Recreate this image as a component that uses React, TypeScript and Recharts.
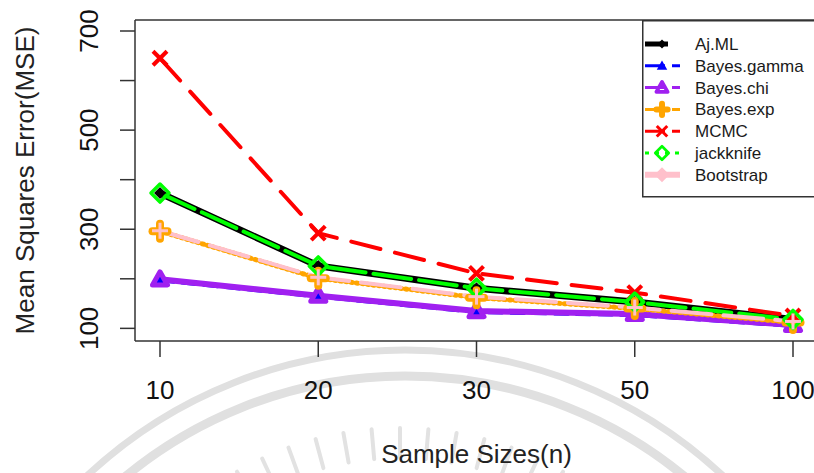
import React from "react";
import { LineChart, Line, XAxis, YAxis, Legend, Label, ReferenceLine } from "recharts";

// MSE per estimator for each sample size
const sampleSizes = ["10", "20", "30", "50", "100"];
const ajML = [373, 226, 181, 153, 118];
const bayesGamma = [196, 163, 132, 126, 104];
const bayesChi = [199, 166, 135, 129, 107];
const bayesExp = [296, 201, 162, 140, 112];
const mcmc = [645, 292, 211, 172, 125];
const jackknife = [373, 226, 181, 153, 118];
const bootstrap = [297, 203, 164, 142, 114];

const yTicks = [100, 200, 300, 400, 500, 600, 700];
const yLabelled = [100, 300, 500, 700];
const yDomain: [number, number] = [74.5, 722.2];

const rows = sampleSizes.map((n, i) => ({
  n,
  ajML: ajML[i],
  bayesGamma: bayesGamma[i],
  bayesChi: bayesChi[i],
  bayesExp: bayesExp[i],
  mcmc: mcmc[i],
  jackknife: jackknife[i],
  bootstrap: bootstrap[i],
}));

const FONT = '"Liberation Sans", Arial, sans-serif';
const AXIS = "#333";

type Marker = "diamondFilled" | "triangleFilled" | "triangleOpen" | "plusThick" | "cross" | "diamondOpen" | "plusThin" | "diamondBig";

interface Series {
  key: string;
  name: string;
  color: string;
  width: number;
  dash?: string;
  marker: Marker;
  legendDash?: string;
  legendWidth: number;
  legendMarker: Marker;
}

const SERIES: Series[] = [
  { key: "ajML", name: "Aj.ML", color: "#000000", width: 7, marker: "diamondFilled", legendWidth: 5, legendMarker: "diamondFilled" },
  { key: "bayesGamma", name: "Bayes.gamma", color: "#0000ff", width: 3, dash: "14 8", marker: "triangleFilled", legendDash: "20 7", legendWidth: 3, legendMarker: "triangleFilled" },
  { key: "bayesChi", name: "Bayes.chi", color: "#a020f0", width: 6, marker: "triangleOpen", legendDash: "20 7", legendWidth: 3, legendMarker: "triangleOpen" },
  { key: "bayesExp", name: "Bayes.exp", color: "#ffa500", width: 5, dash: "1.5 4", marker: "plusThick", legendDash: "20 7", legendWidth: 3, legendMarker: "plusThick" },
  { key: "mcmc", name: "MCMC", color: "#ff0000", width: 4, dash: "30 15", marker: "cross", legendDash: "20 7", legendWidth: 3, legendMarker: "cross" },
  { key: "jackknife", name: "jackknife", color: "#00ff00", width: 4, dash: "38 8", marker: "diamondOpen", legendDash: "4 6", legendWidth: 3, legendMarker: "diamondOpen" },
  { key: "bootstrap", name: "Bootstrap", color: "#ffc0cb", width: 4, dash: "40 12", marker: "plusThin", legendWidth: 6, legendMarker: "diamondBig" },
];

function shape(kind: Marker, x: number, y: number, color: string, scale = 1) {
  const s = scale;
  switch (kind) {
    case "diamondFilled": {
      const r = 6 * s;
      return <polygon points={`${x},${y - r} ${x + r},${y} ${x},${y + r} ${x - r},${y}`} fill={color} />;
    }
    case "diamondBig": {
      const r = 10 * s;
      return <polygon points={`${x},${y - r} ${x + r},${y} ${x},${y + r} ${x - r},${y}`} fill={color} />;
    }
    case "diamondOpen": {
      const r = 9 * s;
      return (
        <polygon
          points={`${x},${y - r} ${x + r},${y} ${x},${y + r} ${x - r},${y}`}
          fill="none"
          stroke={color}
          strokeWidth={3.5 * s}
          strokeLinejoin="round"
        />
      );
    }
    case "triangleFilled": {
      const r = 7 * s;
      return <polygon points={`${x},${y - r} ${x + r},${y + r * 0.75} ${x - r},${y + r * 0.75}`} fill={color} />;
    }
    case "triangleOpen": {
      const r = 7.5 * s;
      return (
        <polygon
          points={`${x},${y - r} ${x + r},${y + r * 0.75} ${x - r},${y + r * 0.75}`}
          fill="none"
          stroke={color}
          strokeWidth={5 * s}
          strokeLinejoin="round"
        />
      );
    }
    case "plusThick": {
      const r = 7.5 * s;
      return (
        <g stroke={color} strokeWidth={8 * s} strokeLinecap="round">
          <line x1={x - r} y1={y} x2={x + r} y2={y} />
          <line x1={x} y1={y - r} x2={x} y2={y + r} />
        </g>
      );
    }
    case "plusThin": {
      const r = 8 * s;
      return (
        <g stroke={color} strokeWidth={3 * s}>
          <line x1={x - r} y1={y} x2={x + r} y2={y} />
          <line x1={x} y1={y - r} x2={x} y2={y + r} />
        </g>
      );
    }
    case "cross": {
      const r = 7 * s;
      return (
        <g stroke={color} strokeWidth={4 * s}>
          <line x1={x - r} y1={y - r} x2={x + r} y2={y + r} />
          <line x1={x - r} y1={y + r} x2={x + r} y2={y - r} />
        </g>
      );
    }
  }
}

const dotFor = (ser: Series) => (props: any) => (
  <g key={`${ser.key}-${props.index}`}>{shape(ser.marker, props.cx, props.cy, ser.color)}</g>
);

const XTick = (props: any) => (
  <text x={props.x} y={props.y} dy={42} textAnchor="middle" fontSize={26} fontFamily={FONT} fill="#111">
    {props.payload.value}
  </text>
);

const YTick = (props: any) => {
  const v = props.payload.value;
  if (!yLabelled.includes(v)) return <g />;
  const x = props.x - 22;
  return (
    <text
      x={x}
      y={props.y}
      transform={`rotate(-90, ${x}, ${props.y})`}
      textAnchor="middle"
      fontSize={26}
      fontFamily={FONT}
      fill="#111"
    >
      {v}
    </text>
  );
};

const YTitle = (props: any) => {
  const vb = props.viewBox;
  const x = vb.x + 34;
  const y = vb.y + vb.height / 2;
  return (
    <text x={x} y={y} transform={`rotate(-90, ${x}, ${y})`} textAnchor="middle" fontSize={26} fontFamily={FONT} fill="#222">
      Mean Squares Error(MSE)
    </text>
  );
};

const LegendBox = () => {
  const rowH = 21.8;
  return (
    <svg width={200} height={178} style={{ display: "block" }}>
      <rect x={0.75} y={0.75} width={200} height={176} fill="#fff" stroke={AXIS} strokeWidth={1.5} />
      {SERIES.map((ser, i) => {
        const y = 24 + i * rowH;
        return (
          <g key={ser.key}>
            <line
              x1={3}
              x2={ser.key === "ajML" ? 26 : 38}
              y1={y}
              y2={y}
              stroke={ser.color}
              strokeWidth={ser.legendWidth}
              strokeDasharray={ser.legendDash}
            />
            {shape(ser.legendMarker, 20, y, ser.color, 0.75)}
            <text x={53} y={y + 6} fontSize={17} fontFamily={FONT} fill="#1a1a1a">
              {ser.name}
            </text>
          </g>
        );
      })}
    </svg>
  );
};

// faint emblem behind the plot
const rays = Array.from({ length: 13 }, (_, i) => -90 - 30 + i * 5);

const Backdrop = () => (
  <svg width={814} height={473} style={{ position: "absolute", left: 0, top: 0 }}>
    <circle cx={405} cy={815} r={465} fill="none" stroke="#e0e0e0" strokeWidth={7} />
    <circle cx={405} cy={815} r={439} fill="none" stroke="#e0e0e0" strokeWidth={9} />
    {rays.map((a) => {
      const t = (a * Math.PI) / 180;
      return (
        <line
          key={a}
          x1={400 + 296 * Math.cos(t)}
          y1={754 + 296 * Math.sin(t)}
          x2={400 + 326 * Math.cos(t)}
          y2={754 + 326 * Math.sin(t)}
          stroke="#e2e2e2"
          strokeWidth={4}
          strokeLinecap="round"
        />
      );
    })}
  </svg>
);

export default function App() {
  return (
    <div style={{ position: "fixed", left: 0, top: 0, width: 814, height: 473, overflow: "hidden", background: "#fff" }}>
      <Backdrop />
      <div style={{ position: "absolute", left: 0, top: 0 }}>
        <LineChart width={830} height={473} data={rows} margin={{ top: 20, right: 12, bottom: 0, left: 0 }}>
          <XAxis
            dataKey="n"
            padding={{ left: 25, right: 25 }}
            height={132}
            tickSize={16}
            tickMargin={0}
            tick={XTick}
            axisLine={{ stroke: AXIS, strokeWidth: 1.5 }}
            tickLine={{ stroke: AXIS, strokeWidth: 1.5 }}
          >
            <Label
              value="Sample Sizes(n)"
              position="insideBottom"
              offset={10}
              style={{ fontSize: 26, fontFamily: FONT, fill: "#222" }}
            />
          </XAxis>
          <YAxis
            type="number"
            domain={yDomain}
            allowDataOverflow
            ticks={yTicks}
            width={135}
            tickSize={15}
            tickMargin={0}
            tick={YTick}
            axisLine={{ stroke: AXIS, strokeWidth: 1.5 }}
            tickLine={{ stroke: AXIS, strokeWidth: 1.5 }}
          >
            <Label content={YTitle} />
          </YAxis>
          <ReferenceLine y={yDomain[1]} stroke={AXIS} strokeWidth={1.5} />
          {SERIES.map((ser) => (
            <Line
              key={ser.key}
              dataKey={ser.key}
              name={ser.name}
              type="linear"
              stroke={ser.color}
              strokeWidth={ser.width}
              strokeDasharray={ser.dash}
              strokeLinecap="round"
              dot={dotFor(ser)}
              activeDot={false}
              isAnimationActive={false}
            />
          ))}
          <Legend
            layout="vertical"
            align="center"
            verticalAlign="middle"
            content={LegendBox}
            wrapperStyle={{ position: "absolute", left: 642, top: 20, width: 200, height: 178 }}
          />
        </LineChart>
      </div>
    </div>
  );
}
